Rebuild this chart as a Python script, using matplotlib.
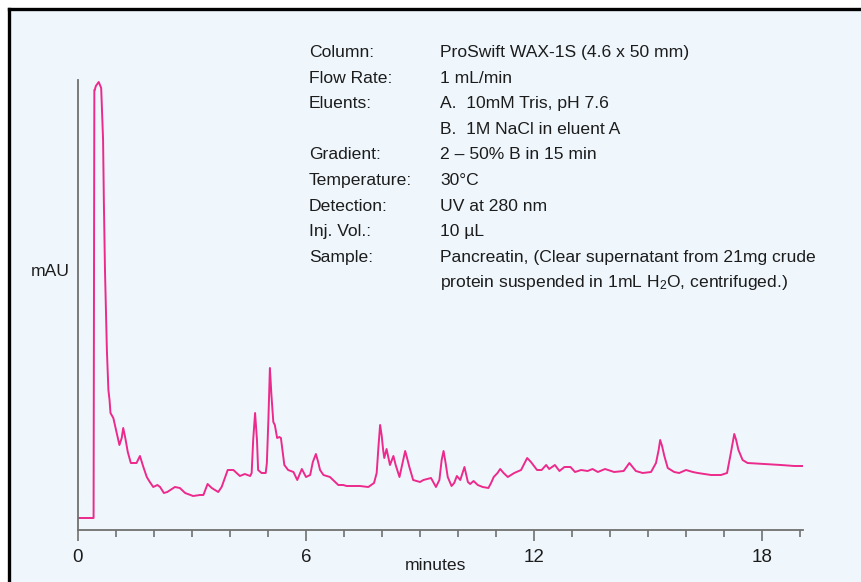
import numpy as np
import matplotlib.pyplot as plt
from matplotlib.lines import Line2D
from matplotlib.patches import Rectangle
from matplotlib.ticker import MultipleLocator
from matplotlib import font_manager

plt.rcParams['font.family'] = ['Liberation Sans', 'DejaVu Sans']
plt.rcParams['mathtext.fontset'] = 'custom'
plt.rcParams['mathtext.rm'] = 'Liberation Sans'
plt.rcParams['mathtext.default'] = 'regular'

# chromatogram trace (minutes, mAU above baseline of axis)
time_min = [0.0, 0.41, 0.43, 0.44, 0.47, 0.545, 0.61, 0.66, 0.68, 0.71, 0.76, 0.80,
            0.83, 0.855, 0.93, 1.02, 1.09, 1.15, 1.19, 1.24, 1.31, 1.39, 1.46, 1.54,
            1.63, 1.72, 1.81, 1.89, 1.98, 2.09, 2.16, 2.26, 2.35, 2.55, 2.68, 2.82,
            3.03, 3.21, 3.30, 3.41, 3.52, 3.69, 3.78, 3.94, 4.09, 4.26, 4.39, 4.53,
            4.57, 4.61, 4.66, 4.71, 4.74, 4.83, 4.94, 4.97, 5.01, 5.05, 5.09, 5.14,
            5.18, 5.24, 5.30, 5.34, 5.43, 5.53, 5.67, 5.77, 5.89, 6.00, 6.11, 6.18,
            6.26, 6.32, 6.37, 6.46, 6.63, 6.85, 6.98, 7.07, 7.24, 7.42, 7.64, 7.79,
            7.86, 7.91, 7.95, 7.99, 8.03, 8.06, 8.12, 8.21, 8.30, 8.36, 8.46, 8.53,
            8.61, 8.66, 8.72, 8.82, 9.00, 9.09, 9.29, 9.42, 9.51, 9.57, 9.62, 9.67,
            9.73, 9.83, 9.90, 9.97, 10.06, 10.17, 10.26, 10.32, 10.41, 10.52, 10.65,
            10.80, 10.87, 10.94, 11.04, 11.11, 11.20, 11.31, 11.48, 11.66, 11.74,
            11.82, 11.92, 12.08, 12.20, 12.32, 12.40, 12.55, 12.67, 12.80, 12.96,
            13.08, 13.24, 13.41, 13.54, 13.68, 13.87, 14.11, 14.36, 14.51, 14.68,
            14.86, 15.08, 15.21, 15.28, 15.32, 15.37, 15.43, 15.52, 15.69, 15.82,
            16.00, 16.18, 16.31, 16.66, 16.92, 17.08, 17.18, 17.27, 17.32, 17.38,
            17.49, 17.62, 18.06, 18.50, 18.85, 19.08]
signal_mau = [12, 12, 440, 440, 444, 448, 442, 390, 330, 260, 180, 140,
              130, 117, 112, 97, 85, 92, 102, 93, 78, 67, 67, 67,
              74, 63, 53, 48, 43, 45, 43, 37, 38, 43, 42, 37,
              34, 35, 35, 46, 42, 38, 43, 60, 60, 54, 56, 54,
              57, 90, 117, 90, 60, 57, 57, 67, 110, 162, 135, 108,
              105, 92, 93, 92, 65, 60, 58, 50, 61, 53, 55, 68,
              76, 68, 60, 55, 53, 45, 45, 44, 44, 44, 43, 47,
              57, 85, 105, 95, 80, 72, 81, 65, 74, 65, 53, 65,
              79, 72, 63, 50, 48, 50, 52, 43, 50, 70, 79, 68,
              53, 44, 47, 54, 50, 63, 48, 46, 49, 45, 43,
              42, 47, 53, 57, 61, 57, 53, 57, 60, 66,
              72, 68, 60, 60, 65, 61, 65, 59, 63, 63,
              58, 60, 59, 61, 58, 61, 58, 59, 67, 59,
              57, 58, 67, 80, 90, 84, 74, 62, 58, 57,
              60, 58, 57, 55, 55, 57, 77, 96, 90, 80,
              70, 67, 66, 65, 64, 64]

tick_values = [0, 6, 12, 18]

info_labels = ['Column:', 'Flow Rate:', 'Eluents:', '', 'Gradient:', 'Temperature:',
               'Detection:', 'Inj. Vol.:', 'Sample:', '']
info_values = ['ProSwift WAX-1S (4.6 x 50 mm)', '1 mL/min', 'A.  10mM Tris, pH 7.6',
               'B.  1M NaCl in eluent A', '2 \u2013 50% B in 15 min', '30\u00b0C',
               'UV at 280 nm', '10 \u00b5L',
               'Pancreatin, (Clear supernatant from 21mg crude',
               'protein suspended in 1mL H$_2$O, centrifuged.)']

W, H = 862, 582
fs = 12.6
txt_color = '#1c1c1c'

# condensed face for the axis numbers if it is there
installed = {f.name for f in font_manager.fontManager.ttflist}
if 'Liberation Sans Narrow' in installed:
    num_family, num_size = 'Liberation Sans Narrow', 15
else:
    num_family, num_size = 'Liberation Sans', 13.5

fig = plt.figure(figsize=(W / 100, H / 100), dpi=100)
fig.patch.set_facecolor('white')

# light blue panel with black frame on top and left
fig.patches.append(Rectangle((9 / W, 0), 1, 1 - 9 / H, transform=fig.transFigure,
                             facecolor='#EFF7FD', edgecolor='none', zorder=-5))
fig.lines.append(Line2D([9 / W, 1], [1 - 9 / H, 1 - 9 / H], transform=fig.transFigure,
                        color='black', lw=2.4, zorder=-4))
fig.lines.append(Line2D([9 / W, 9 / W], [0, 1 - 9 / H], transform=fig.transFigure,
                        color='black', lw=2.4, zorder=-4))

ax = fig.add_axes([78 / W, (H - 530) / H, (803 - 78) / W, 450 / H])
ax.set_zorder(5)
ax.set_facecolor('none')
ax.plot(time_min, signal_mau, color='#EC2A8C', lw=1.4, solid_joinstyle='round')
ax.set_xlim(0, 725 / 38)
ax.set_ylim(0, 450)

for side in ['top', 'right']:
    ax.spines[side].set_visible(False)
for side in ['left', 'bottom']:
    ax.spines[side].set_color('#707070')
    ax.spines[side].set_linewidth(1.3)

ax.set_xticks(tick_values)
ax.set_xticklabels([str(v) for v in tick_values], family=num_family)
ax.xaxis.set_minor_locator(MultipleLocator(1))
ax.tick_params(axis='x', which='major', length=8, width=1.2, color='#707070',
               labelsize=num_size, labelcolor=txt_color, pad=6)
ax.tick_params(axis='x', which='minor', length=5, width=1.2, color='#707070')
ax.set_yticks([])

fig.text(70 / W, 1 - 272 / H, 'mAU', ha='right', va='center', fontsize=fs,
         color=txt_color)
fig.text(435 / W, 1 - 565 / H, 'minutes', ha='center', va='center', fontsize=fs,
         color=txt_color)

# method conditions block
line_gap = 25.6
for i, (lab, val) in enumerate(zip(info_labels, info_values)):
    yb = 1 - (57 + i * line_gap) / H
    if lab:
        fig.text(309 / W, yb, lab, ha='left', va='baseline', fontsize=fs, color=txt_color)
    fig.text(440 / W, yb, val, ha='left', va='baseline', fontsize=fs, color=txt_color)

fig.savefig('out.png', dpi=100)
